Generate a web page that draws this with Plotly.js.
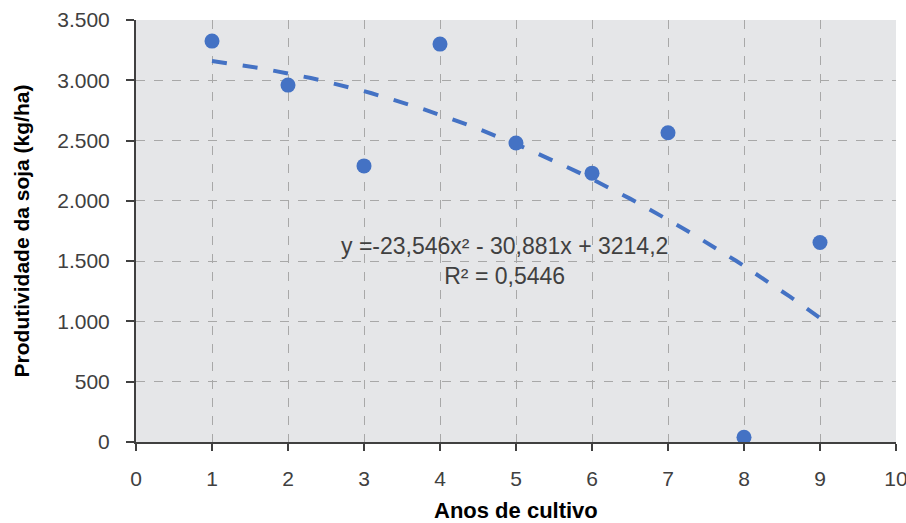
<!DOCTYPE html>
<html>
<head>
<meta charset="utf-8">
<script src="https://cdn.plot.ly/plotly-3.0.1.min.js"></script>
<style>
  html, body { margin: 0; padding: 0; background: #ffffff; }
  #chart { width: 906px; height: 523px; }
</style>
</head>
<body>
<div id="chart"></div>
<script>
// Soybean yield by year of cultivation
const anos = [1, 2, 3, 4, 5, 6, 7, 8, 9];
const produtividade = [3325, 2960, 2290, 3300, 2480, 2230, 2565, 40, 1655];

// Polynomial (order 2) trend: y = a*x^2 + b*x + c
const coefA = -23.546;
const coefB = -30.881;
const coefC = 3214.2;
const trendX = [];
for (let i = 0; i <= 80; i++) trendX.push(1 + i * 0.1);
const trendY = trendX.map(x => coefA * x * x + coefB * x + coefC);

const eqText = 'y =-23,546x² - 30,881x + 3214,2<br>R² = 0,5446';
const xTitle = '<b>Anos de cultivo</b>';
const yTitle = '<b>Produtividade da soja (kg/ha)</b>';

const traces = [
  {
    x: trendX, y: trendY, type: 'scatter', mode: 'lines',
    line: { color: '#4472c4', width: 4, dash: '15px,16px' },
    hoverinfo: 'skip', showlegend: false
  },
  {
    x: anos, y: produtividade, type: 'scatter', mode: 'markers',
    marker: { color: '#4472c4', size: 15 },
    showlegend: false
  }
];

const layout = {
  width: 906, height: 523,
  margin: { l: 136, r: 10, t: 20, b: 81 },
  paper_bgcolor: '#ffffff',
  plot_bgcolor: '#e5e6e8',
  separators: ',.',
  font: { family: 'Liberation Sans, Arial, sans-serif', color: '#404040', size: 21 },
  xaxis: {
    range: [0, 10], dtick: 1, tick0: 0,
    showgrid: true, gridcolor: '#a8a8a8', griddash: 'dash', gridwidth: 1,
    zeroline: false, automargin: false,
    showline: true, linecolor: '#404040', linewidth: 2,
    ticks: 'outside', ticklen: 7, tickwidth: 2, tickcolor: '#404040',
    ticklabelstandoff: 10, ticklabeloverflow: 'allow',
    tickfont: { size: 21, color: '#404040' }
  },
  yaxis: {
    range: [0, 3500], dtick: 500, tick0: 0,
    tickformat: ',d',
    showgrid: true, gridcolor: '#a8a8a8', griddash: 'dash', gridwidth: 1,
    zeroline: false, automargin: false,
    showline: true, linecolor: '#404040', linewidth: 2,
    ticks: 'outside', ticklen: 8, tickwidth: 2, tickcolor: '#404040',
    ticklabelstandoff: 12, ticklabeloverflow: 'allow',
    tickfont: { size: 21, color: '#404040' },
    title: { text: yTitle, font: { size: 21, color: '#000000' }, standoff: 22 }
  },
  annotations: [
    {
      x: 4.85, y: 1500, xref: 'x', yref: 'y',
      text: eqText, showarrow: false, align: 'center',
      font: { size: 23, color: '#404040' }
    },
    {
      // horizontal axis title, set low in the bottom margin
      x: 0.5, y: -0.162, xref: 'paper', yref: 'paper',
      xanchor: 'center', yanchor: 'middle',
      text: xTitle, showarrow: false,
      font: { size: 22, color: '#000000' }
    }
  ]
};

Plotly.newPlot('chart', traces, layout, { displayModeBar: false, staticPlot: true });
</script>
</body>
</html>
